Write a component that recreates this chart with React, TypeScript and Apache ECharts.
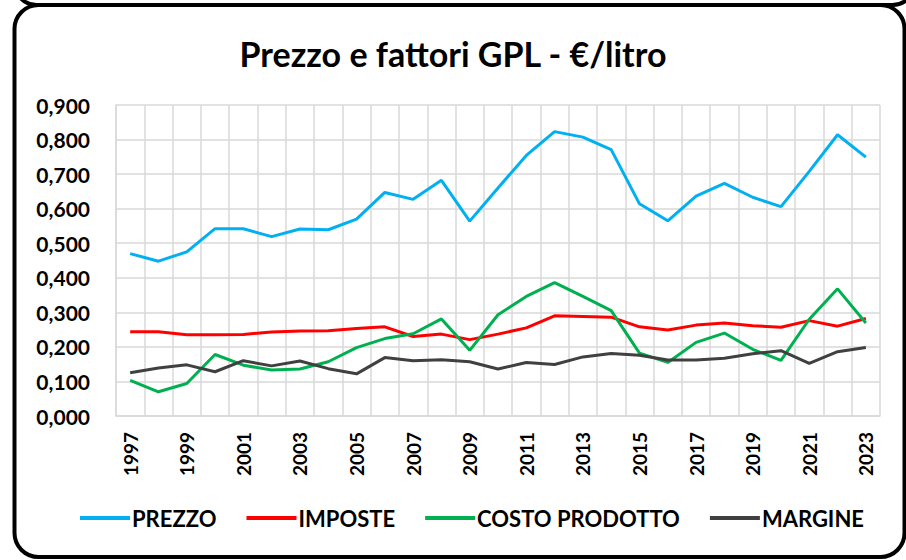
import React, { useEffect, useRef } from "react";
import * as echarts from "echarts";

const years = ["1997","1998","1999","2000","2001","2002","2003","2004","2005","2006","2007","2008","2009","2010","2011","2012","2013","2014","2015","2016","2017","2018","2019","2020","2021","2022","2023"];
const prezzo = [0.470,0.448,0.475,0.542,0.542,0.519,0.541,0.539,0.570,0.647,0.627,0.682,0.564,0.660,0.754,0.823,0.807,0.771,0.614,0.565,0.636,0.673,0.633,0.606,0.708,0.814,0.749];
const imposte = [0.244,0.244,0.235,0.235,0.236,0.243,0.246,0.247,0.253,0.258,0.230,0.237,0.221,0.237,0.255,0.290,0.288,0.286,0.258,0.249,0.263,0.269,0.261,0.257,0.276,0.260,0.282];
const costoProdotto = [0.103,0.070,0.094,0.178,0.147,0.133,0.136,0.157,0.198,0.224,0.238,0.281,0.190,0.293,0.346,0.386,0.346,0.305,0.182,0.155,0.213,0.240,0.193,0.161,0.280,0.368,0.269];
const margine = [0.125,0.139,0.148,0.128,0.160,0.145,0.159,0.137,0.122,0.169,0.160,0.163,0.157,0.136,0.155,0.149,0.171,0.181,0.176,0.162,0.162,0.167,0.180,0.189,0.152,0.186,0.198];

const FONT = "Lato, 'Open Sans', sans-serif";

export default function App() {
  const ref = useRef<HTMLDivElement>(null);
  useEffect(() => {
    if (!ref.current) return;
    const chart = echarts.init(ref.current, null, { renderer: "svg" });
    const mk = (name: string, data: number[], color: string) => ({
      name,
      type: "line",
      data,
      symbol: "none",
      lineStyle: { color, width: 3 },
      itemStyle: { color },
    });
    chart.setOption({
      animation: false,
      backgroundColor: "#fff",
      title: {
        text: "Prezzo e fattori GPL - €/litro",
        left: "center",
        top: 31,
        textStyle: { fontFamily: FONT, fontSize: 34, fontWeight: "bold", color: "#000" },
      },
      graphic: [
        {
          type: "rect",
          shape: { x: 14.5, y: -548, width: 900, height: 553, r: 22 },
          style: { fill: "none", stroke: "#000", lineWidth: 4 },
          z: 10,
        },
        {
          type: "rect",
          shape: { x: 14.5, y: 5, width: 890, height: 552, r: 24 },
          style: { fill: "none", stroke: "#000", lineWidth: 4 },
          z: 10,
        },
      ],
      legend: {
        bottom: 26,
        left: 75,
        icon: "rect",
        itemWidth: 50,
        itemHeight: 4,
        itemGap: 30,
        textStyle: { fontFamily: FONT, fontSize: 22, fontWeight: "bold", color: "#000", padding: [0, 0, 0, -3] },
        data: ["PREZZO", "IMPOSTE", "COSTO PRODOTTO", "MARGINE"],
      },
      grid: { left: 116, right: 26, top: 105, bottom: 144 },
      xAxis: {
        type: "category",
        data: years,
        boundaryGap: true,
        axisLine: { show: true, lineStyle: { color: "#d9d9d9", width: 1.5 } },
        axisTick: { show: false },
        splitLine: { show: true, interval: 0, lineStyle: { color: "#d9d9d9", width: 1.5 } },
        axisLabel: {
          interval: 1,
          rotate: 90,
          margin: 16,
          fontFamily: FONT,
          fontSize: 19,
          fontWeight: "bold",
          color: "#000",
        },
      },
      yAxis: {
        type: "value",
        min: 0,
        max: 0.9,
        interval: 0.1,
        axisLine: { show: true, lineStyle: { color: "#d9d9d9", width: 1.5 } },
        axisTick: { show: false },
        splitLine: { show: true, lineStyle: { color: "#d9d9d9", width: 1.5 } },
        axisLabel: {
          margin: 26,
          fontFamily: FONT,
          fontSize: 21,
          fontWeight: "bold",
          color: "#000",
          formatter: (v: number) => v.toFixed(3).replace(".", ","),
        },
      },
      series: [
        mk("PREZZO", prezzo, "#00b0f0"),
        mk("IMPOSTE", imposte, "#ff0000"),
        mk("COSTO PRODOTTO", costoProdotto, "#00b050"),
        mk("MARGINE", margine, "#404040"),
      ],
    });
    return () => chart.dispose();
  }, []);
  return <div ref={ref} style={{ width: 906, height: 560, position: "absolute", left: 0, top: 0 }} />;
}
